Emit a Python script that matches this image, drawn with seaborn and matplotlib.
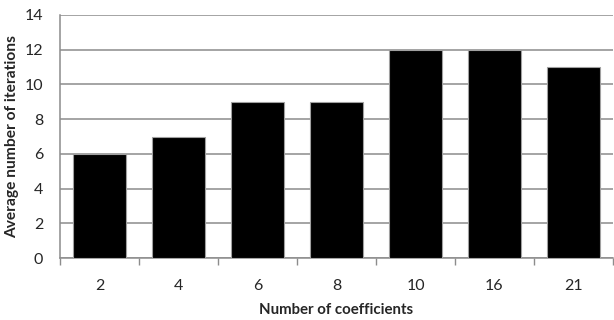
#!/usr/bin/env python3
"""Bar chart: average number of iterations per number of coefficients."""

import pandas as pd
import matplotlib
matplotlib.use("Agg")
import matplotlib.pyplot as plt
import seaborn as sns

coefficients = ["2", "4", "6", "8", "10", "16", "21"]
iterations = [6, 7, 9, 9, 12, 12, 11]
y_ticks = [0, 2, 4, 6, 8, 10, 12, 14]

sns.set_theme(style="white")
plt.rcParams["font.family"] = ["Lato", "DejaVu Sans"]

df = pd.DataFrame({"coeff": coefficients, "iters": iterations})

fig = plt.figure(figsize=(6.14, 3.2), dpi=100)
ax = fig.add_axes([60 / 614, 1 - 258 / 320, 553 / 614, 243 / 320])

sns.barplot(data=df, x="coeff", y="iters", color="black", width=0.66,
            edgecolor="#a0a0a0", linewidth=0.8, saturation=1, ax=ax, zorder=3)

ax.set_ylim(0, 14)
ax.set_yticks(y_ticks)
ax.set_xlim(-0.5, len(coefficients) - 0.5)
ax.yaxis.grid(True, color="#8c8c8c", linewidth=1.1, zorder=0)
ax.set_axisbelow(True)

for side in ["top", "right"]:
    ax.spines[side].set_visible(False)
for side in ["left", "bottom"]:
    ax.spines[side].set_color("#8c8c8c")
    ax.spines[side].set_linewidth(1.1)

# Excel-style ticks between categories
ax.set_xticks([i + 0.5 for i in range(-1, len(coefficients))], minor=True)
ax.tick_params(axis="x", which="minor", bottom=True, length=5, width=1,
               color="#8c8c8c", direction="out")
ax.tick_params(axis="x", which="major", bottom=False, labelsize=11.5, pad=9)
ax.tick_params(axis="y", left=False, labelsize=11.5, pad=6)

ax.set_xlabel("Number of coefficients", fontsize=10.8, fontweight="bold", labelpad=7)
ax.set_ylabel("Average number of iterations", fontsize=11.2, fontweight="bold", labelpad=4)

fig.savefig("out.png", dpi=100)
